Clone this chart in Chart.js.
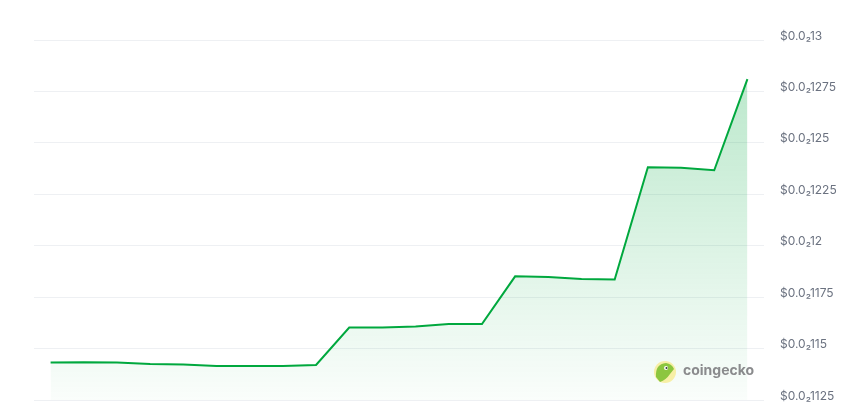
<!DOCTYPE html>
<html>
<head>
<meta charset="utf-8">
<script src="https://cdn.jsdelivr.net/npm/chart.js@4/dist/chart.umd.min.js"></script>
<style>
  html, body { margin: 0; padding: 0; background: #fff; }
  #wrap { width: 858px; height: 408px; position: relative; }
</style>
</head>
<body>
<div id="wrap"><canvas id="priceChart"></canvas></div>
<script>
// price points, left to right (USD)
const labels = ['1','2','3','4','5','6','7','8','9','10','11','12','13','14','15','16','17','18','19','20','21','22'];
const prices = [
  0.0011432, 0.0011434, 0.0011432, 0.0011425, 0.0011422, 0.0011415, 0.0011415, 0.0011415,
  0.0011420, 0.0011602, 0.0011602, 0.0011607, 0.0011619, 0.0011619, 0.0011851, 0.0011848,
  0.0011838, 0.0011836, 0.0012381, 0.0012379, 0.0012367, 0.0012810
];
const yMin = 0.001125;
const yMax = 0.0013;
const yStep = 0.000025;

// $0.0₂1275 style label
function formatTick(v) {
  let digits = (Math.round(v * 1e7)).toString(); // e.g. 12750
  digits = digits.replace(/0+$/, '');
  return '$0.0\u2082' + digits;
}

// coingecko watermark
const watermark = {
  id: 'watermark',
  afterDatasetsDraw(chart) {
    const ctx = chart.ctx;
    ctx.save();
    ctx.beginPath();
    ctx.arc(665, 372, 11, 0, Math.PI * 2);
    ctx.fillStyle = '#f7efa6';
    ctx.fill();
    // gecko head
    ctx.beginPath();
    ctx.moveTo(656, 377);
    ctx.quadraticCurveTo(655, 364, 666, 363);
    ctx.quadraticCurveTo(672, 364, 674, 369);
    ctx.lineTo(670, 374);
    ctx.quadraticCurveTo(666, 380, 660, 382);
    ctx.closePath();
    ctx.fillStyle = '#8cc63f';
    ctx.fill();
    ctx.beginPath();
    ctx.arc(666, 368, 2, 0, Math.PI * 2);
    ctx.fillStyle = '#fff';
    ctx.fill();
    ctx.beginPath();
    ctx.arc(666.5, 368, 1, 0, Math.PI * 2);
    ctx.fillStyle = '#333';
    ctx.fill();
    ctx.font = 'bold 14px Inter, "Open Sans", sans-serif';
    ctx.fillStyle = '#8a8b8d';
    ctx.textBaseline = 'middle';
    ctx.fillText('coingecko', 683, 371);
    ctx.restore();
  }
};

const ctx = document.getElementById('priceChart').getContext('2d');
const fillGrad = ctx.createLinearGradient(0, 60, 0, 400);
fillGrad.addColorStop(0, 'rgba(0, 168, 62, 0.28)');
fillGrad.addColorStop(1, 'rgba(0, 168, 62, 0.02)');

const priceChart = new Chart(ctx, {
  type: 'line',
  data: {
    labels: labels,
    datasets: [{
      data: prices,
      borderColor: '#00a83e',
      borderWidth: 2,
      backgroundColor: fillGrad,
      fill: 'start',
      pointRadius: 0,
      tension: 0
    }]
  },
  options: {
    responsive: true,
    maintainAspectRatio: false,
    animation: false,
    layout: { padding: { left: 34, top: 40, bottom: 8, right: 0 } },
    plugins: { legend: { display: false }, tooltip: { enabled: false } },
    scales: {
      x: {
        offset: true,
        display: false,
        grid: { display: false }
      },
      y: {
        position: 'right',
        min: yMin,
        max: yMax,
        border: { display: false },
        grid: { color: '#eef0f3', drawTicks: false, lineWidth: 1 },
        afterFit(scale) {
          scale.width = 94;
          scale.paddingTop = 0;
          scale.paddingBottom = 0;
        },
        ticks: {
          stepSize: yStep,
          padding: 16,
          labelOffset: -4,
          color: '#6b7280',
          font: { family: 'Inter, "Open Sans", sans-serif', size: 12 },
          callback: formatTick
        }
      }
    }
  },
  plugins: [watermark]
});
</script>
</body>
</html>
